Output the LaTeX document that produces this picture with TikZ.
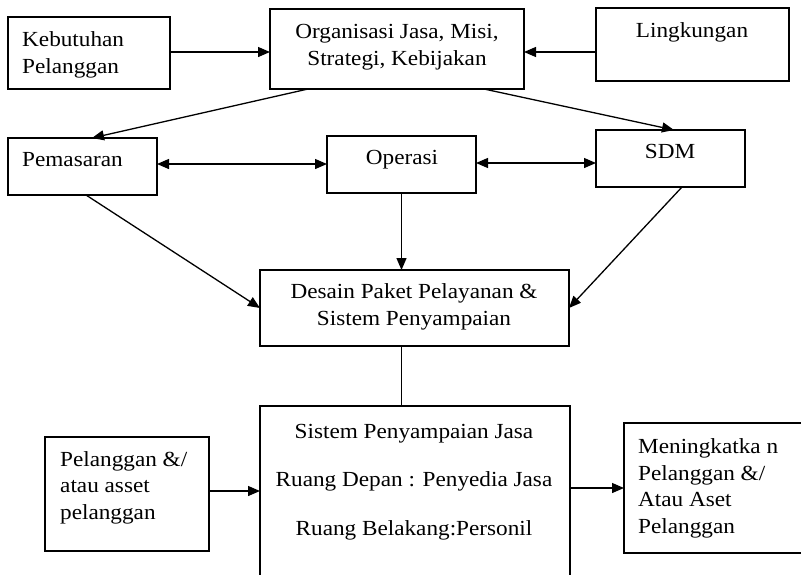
\documentclass[tikz,border=0pt]{standalone}
\usepackage{fontspec}
\setmainfont[FakeStretch=1.08]{Liberation Serif}
\usetikzlibrary{arrows.meta}
\begin{document}
\begin{tikzpicture}[x=1pt,y=-1pt,
  box/.style={draw,line width=1.9pt,inner sep=0pt,outer sep=0pt},
  txt/.style={inner sep=0pt,font=\fontsize{21.5}{26.5}\selectfont},
  arr/.style={line width=1.3pt,-{Triangle[length=12pt,width=10pt]}},
  arrb/.style={line width=1.3pt,{Triangle[length=12pt,width=10pt]}-{Triangle[length=12pt,width=10pt]}},
  ln/.style={line width=1.3pt}]
\useasboundingbox (0,0) rectangle (801,574);
\clip (0,0) rectangle (801,574);
% boxes
\node[box,minimum width=162pt,minimum height=72pt] (kb) at (89,53) {};
\node[box,minimum width=254pt,minimum height=80pt] (org) at (397,49) {};
\node[box,minimum width=193pt,minimum height=73pt] (lk) at (692.5,44.5) {};
\node[box,minimum width=149pt,minimum height=57pt] (pm) at (82.5,166.5) {};
\node[box,minimum width=149pt,minimum height=57pt] (op) at (401.5,164.5) {};
\node[box,minimum width=149pt,minimum height=57pt] (sdm) at (670.5,158.5) {};
\node[box,minimum width=309pt,minimum height=76pt] (ds) at (414.5,308) {};
\node[box,minimum width=310pt,minimum height=184pt] (sys) at (415,498) {};
\node[box,minimum width=164pt,minimum height=114pt] (pel) at (127,494) {};
\node[box,minimum width=191pt,minimum height=130pt] (mn) at (719.5,488) {};
% texts (base anchor = last line's baseline)
\node[txt,anchor=base west,align=left] (tkb) at (22,73) {Kebutuhan\\Pelanggan};
\node[txt,anchor=base,align=center] (torg) at (397,65) {Organisasi Jasa, Misi,\\Strategi, Kebijakan};
\node[txt,anchor=base] (tlk) at (692,37) {Lingkungan};
\node[txt,anchor=base west] (tpm) at (22,166) {Pemasaran};
\node[txt,anchor=base] (top) at (402,164) {Operasi};
\node[txt,anchor=base] (tsdm) at (670,158) {SDM};
\node[txt,anchor=base,align=center] (tds) at (414,325) {Desain Paket Pelayanan \&\\Sistem Penyampaian};
\node[txt,anchor=base,align=center] (tsys) at (414,535) {Sistem Penyampaian Jasa\\[22pt]Ruang Depan : Penyedia Jasa\\[22pt]Ruang Belakang:Personil};
\node[txt,anchor=base west,align=left] (tpel) at (60,519) {Pelanggan \&/\\atau asset\\pelanggan};
\node[txt,anchor=base west,align=left] (tmn) at (638,533) {Meningkatka n\\Pelanggan \&/\\Atau Aset\\Pelanggan};
% connectors
\draw[arr] (kb.east |- 0,52) -- (org.west |- 0,52);
\draw[arr] (lk.west |- 0,52) -- (org.east |- 0,52);
\draw[arr] ([xshift=38pt]org.south west) -- ([xshift=84pt]pm.north west);
\draw[arr] ([xshift=-40pt]org.south east) -- ([xshift=78pt]sdm.north west);
\draw[arrb] (pm.east |- 0,164) -- (op.west |- 0,164);
\draw[arrb] (op.east |- 0,163) -- (sdm.west |- 0,163);
\draw[arr] ([xshift=78pt]pm.south west) -- (ds.west);
\draw[arr] (op.south) -- (op.south |- ds.north);
\draw[arr] ([xshift=86pt]sdm.south west) -- (ds.east);
\draw[ln] (ds.south -| op.south) -- (sys.north -| op.south);
\draw[arr] (pel.east |- 0,491) -- (sys.west |- 0,491);
\draw[arr] (sys.east |- 0,488) -- (mn.west |- 0,488);
\end{tikzpicture}
\end{document}
